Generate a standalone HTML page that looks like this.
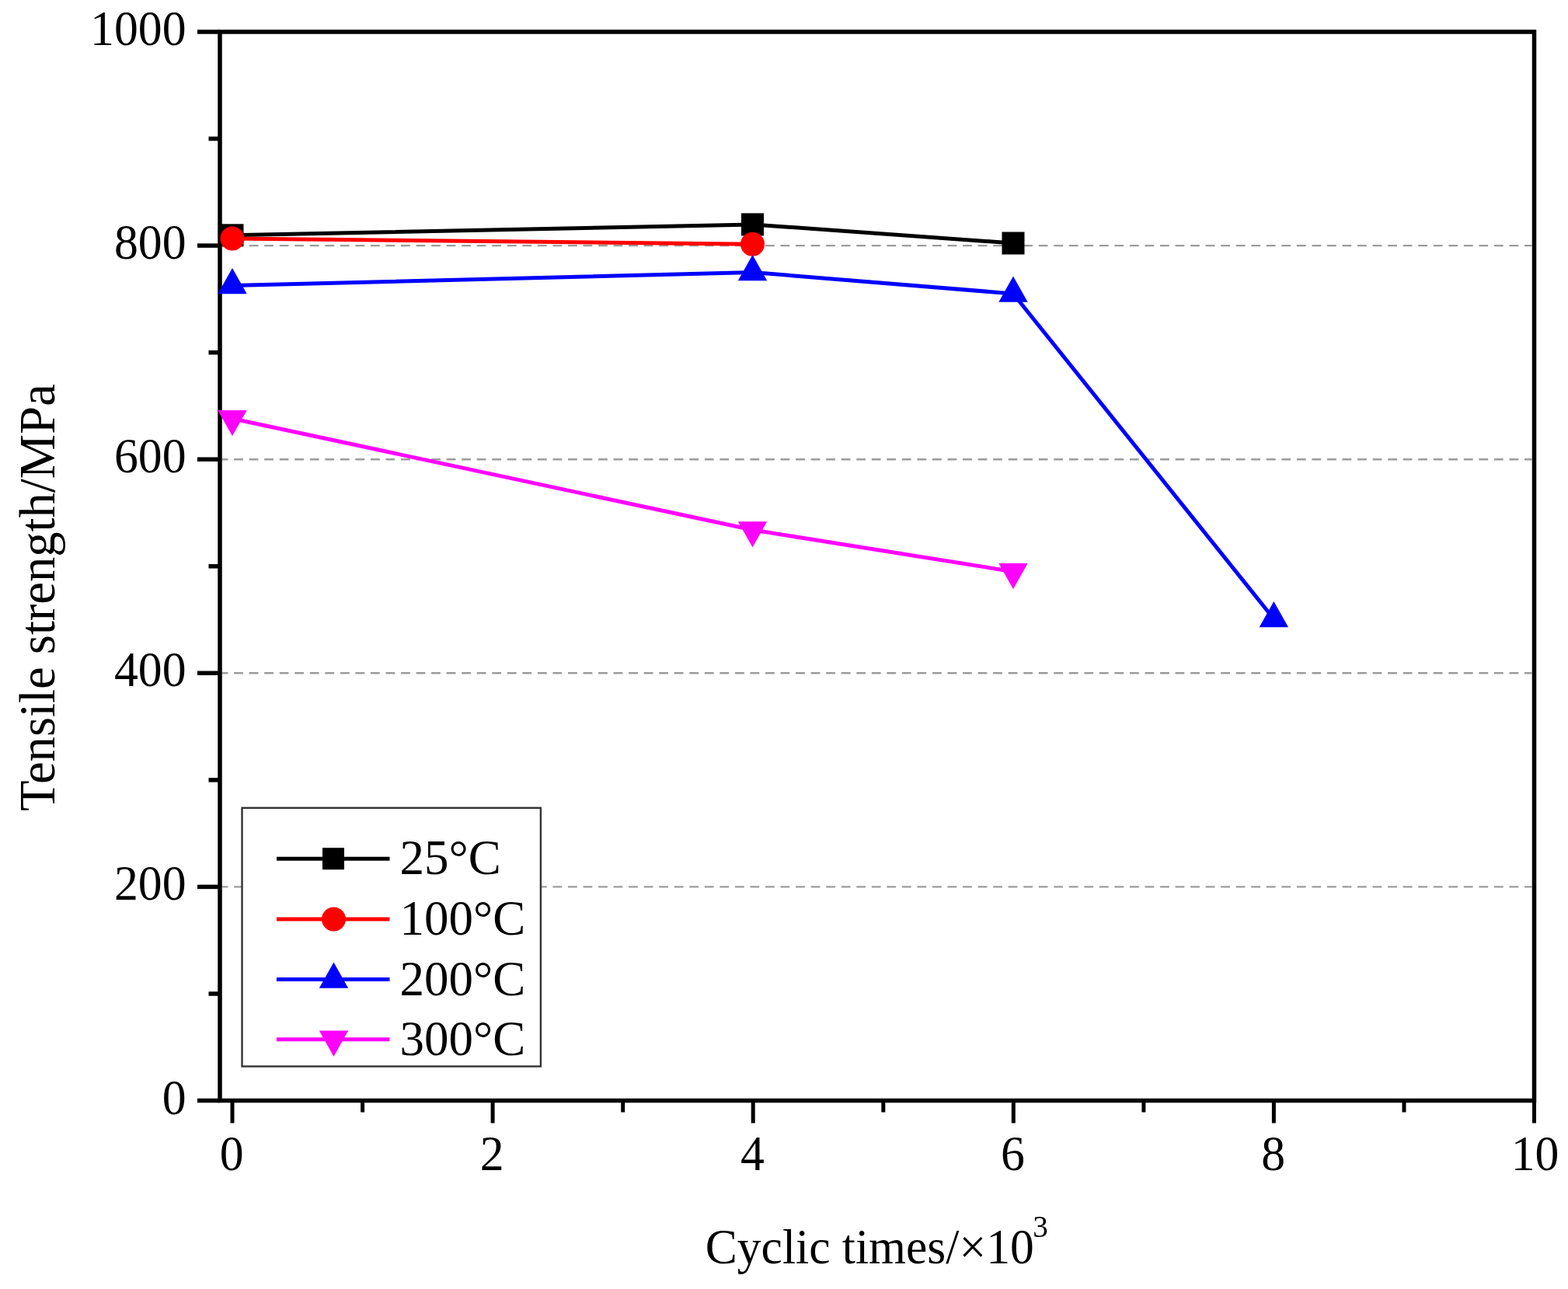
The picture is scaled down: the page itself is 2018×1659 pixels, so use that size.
<!DOCTYPE html><html><head><meta charset="utf-8"><title>Tensile strength vs cyclic times</title><style>html,body{margin:0;padding:0;background:#fff;overflow:hidden}svg{display:block}#w{width:2018px;height:1659px}text{font-family:"Liberation Serif","Times New Roman",serif;fill:#000}</style></head><body>
<div id="w"><svg width="2018" height="1659" viewBox="0 0 2018 1659">
<rect width="2018" height="1659" fill="#fff"/>
<line x1="286.0" y1="1141.4" x2="1971.5" y2="1141.4" stroke="#9c9c9c" stroke-width="2.4" stroke-dasharray="11.8 7.74" stroke-dashoffset="4.44"/>
<line x1="286.0" y1="866.3" x2="1971.5" y2="866.3" stroke="#9c9c9c" stroke-width="2.4" stroke-dasharray="11.8 7.74" stroke-dashoffset="4.44"/>
<line x1="286.0" y1="591.2" x2="1971.5" y2="591.2" stroke="#9c9c9c" stroke-width="2.4" stroke-dasharray="11.8 7.74" stroke-dashoffset="4.44"/>
<line x1="286.0" y1="316.1" x2="1971.5" y2="316.1" stroke="#9c9c9c" stroke-width="2.4" stroke-dasharray="11.8 7.74" stroke-dashoffset="4.44"/>
<rect x="283.0" y="41.0" width="1691.5" height="1375.5" fill="none" stroke="#000" stroke-width="5.5"/>
<line x1="254.0" y1="1416.5" x2="283.0" y2="1416.5" stroke="#000" stroke-width="5.5"/>
<line x1="268.5" y1="1279.0" x2="283.0" y2="1279.0" stroke="#000" stroke-width="5.5"/>
<line x1="254.0" y1="1141.4" x2="283.0" y2="1141.4" stroke="#000" stroke-width="5.5"/>
<line x1="268.5" y1="1003.9" x2="283.0" y2="1003.9" stroke="#000" stroke-width="5.5"/>
<line x1="254.0" y1="866.3" x2="283.0" y2="866.3" stroke="#000" stroke-width="5.5"/>
<line x1="268.5" y1="728.8" x2="283.0" y2="728.8" stroke="#000" stroke-width="5.5"/>
<line x1="254.0" y1="591.2" x2="283.0" y2="591.2" stroke="#000" stroke-width="5.5"/>
<line x1="268.5" y1="453.7" x2="283.0" y2="453.7" stroke="#000" stroke-width="5.5"/>
<line x1="254.0" y1="316.1" x2="283.0" y2="316.1" stroke="#000" stroke-width="5.5"/>
<line x1="268.5" y1="178.5" x2="283.0" y2="178.5" stroke="#000" stroke-width="5.5"/>
<line x1="254.0" y1="41.0" x2="283.0" y2="41.0" stroke="#000" stroke-width="5.5"/>
<line x1="299.0" y1="1416.5" x2="299.0" y2="1445.5" stroke="#000" stroke-width="5"/>
<line x1="466.6" y1="1416.5" x2="466.6" y2="1431.5" stroke="#000" stroke-width="5"/>
<line x1="634.1" y1="1416.5" x2="634.1" y2="1445.5" stroke="#000" stroke-width="5"/>
<line x1="801.7" y1="1416.5" x2="801.7" y2="1431.5" stroke="#000" stroke-width="5"/>
<line x1="969.2" y1="1416.5" x2="969.2" y2="1445.5" stroke="#000" stroke-width="5"/>
<line x1="1136.8" y1="1416.5" x2="1136.8" y2="1431.5" stroke="#000" stroke-width="5"/>
<line x1="1304.3" y1="1416.5" x2="1304.3" y2="1445.5" stroke="#000" stroke-width="5"/>
<line x1="1471.9" y1="1416.5" x2="1471.9" y2="1431.5" stroke="#000" stroke-width="5"/>
<line x1="1639.4" y1="1416.5" x2="1639.4" y2="1445.5" stroke="#000" stroke-width="5"/>
<line x1="1807.0" y1="1416.5" x2="1807.0" y2="1431.5" stroke="#000" stroke-width="5"/>
<line x1="1974.5" y1="1416.5" x2="1974.5" y2="1445.5" stroke="#000" stroke-width="5"/>
<polyline points="299.0,302.8 968.5,288.9 1304.0,313.0" fill="none" stroke="#000" stroke-width="5" stroke-linejoin="round"/>
<rect x="284.5" y="288.3" width="29" height="29" fill="#000"/>
<rect x="954.0" y="274.4" width="29" height="29" fill="#000"/>
<rect x="1289.5" y="298.5" width="29" height="29" fill="#000"/>
<polyline points="299.0,307.0 968.5,314.3" fill="none" stroke="#f00" stroke-width="5" stroke-linejoin="round"/>
<circle cx="299.0" cy="307.0" r="15.5" fill="#f00"/>
<circle cx="968.5" cy="314.3" r="15.5" fill="#f00"/>
<polyline points="299.0,367.5 968.5,350.5 1304.0,378.0 1639.4,796.5" fill="none" stroke="#00f" stroke-width="5" stroke-linejoin="round"/>
<polygon points="299.0,345.0 317.7,378.2 280.3,378.2" fill="#00f"/>
<polygon points="968.5,328.0 987.2,361.2 949.8,361.2" fill="#00f"/>
<polygon points="1304.0,355.5 1322.7,388.7 1285.3,388.7" fill="#00f"/>
<polygon points="1639.4,774.0 1658.1,807.2 1620.7,807.2" fill="#00f"/>
<polyline points="299.0,538.8 968.5,682.0 1304.0,735.7" fill="none" stroke="#f0f" stroke-width="5" stroke-linejoin="round"/>
<polygon points="299.0,561.3 317.7,528.1 280.3,528.1" fill="#f0f"/>
<polygon points="968.5,704.5 987.2,671.3 949.8,671.3" fill="#f0f"/>
<polygon points="1304.0,758.2 1322.7,725.0 1285.3,725.0" fill="#f0f"/>
<text transform="translate(239.5,1433.5) scale(0.965,1)" font-size="64" text-anchor="end">0</text>
<text transform="translate(239.5,1158.4) scale(0.965,1)" font-size="64" text-anchor="end">200</text>
<text transform="translate(239.5,883.3) scale(0.965,1)" font-size="64" text-anchor="end">400</text>
<text transform="translate(239.5,608.2) scale(0.965,1)" font-size="64" text-anchor="end">600</text>
<text transform="translate(239.5,333.1) scale(0.965,1)" font-size="64" text-anchor="end">800</text>
<text transform="translate(239.5,58.0) scale(0.965,1)" font-size="64" text-anchor="end">1000</text>
<text transform="translate(298.2,1506) scale(0.965,1)" font-size="64" text-anchor="middle">0</text>
<text transform="translate(633.3,1506) scale(0.965,1)" font-size="64" text-anchor="middle">2</text>
<text transform="translate(968.4,1506) scale(0.965,1)" font-size="64" text-anchor="middle">4</text>
<text transform="translate(1303.5,1506) scale(0.965,1)" font-size="64" text-anchor="middle">6</text>
<text transform="translate(1638.6,1506) scale(0.965,1)" font-size="64" text-anchor="middle">8</text>
<text transform="translate(1975.5,1506) scale(0.965,1)" font-size="64" text-anchor="middle">10</text>
<text transform="translate(69.7,1044) rotate(-90)" font-size="64.6">Tensile strength/MPa</text>
<text transform="translate(907.7,1626) scale(0.97,1)" font-size="63.5">Cyclic times/×10<tspan font-size="40.5" dx="-1.5" dy="-33.8">3</tspan></text>
<rect x="311.5" y="1039.8" width="384.4" height="332.7" fill="#fff" stroke="#333" stroke-width="2.4"/>
<line x1="356" y1="1105.2" x2="501.5" y2="1105.2" stroke="#000" stroke-width="5"/>
<rect x="415.0" y="1091.2" width="28" height="28" fill="#000"/>
<text x="514.5" y="1125.4" font-size="63">25°C</text>
<line x1="356" y1="1183" x2="501.5" y2="1183" stroke="#f00" stroke-width="5"/>
<circle cx="429.5" cy="1183.0" r="15.5" fill="#f00"/>
<text x="514.5" y="1203.2" font-size="63">100°C</text>
<line x1="356" y1="1260.6" x2="501.5" y2="1260.6" stroke="#00f" stroke-width="5"/>
<polygon points="429.5,1238.6 448.2,1271.8 410.8,1271.8" fill="#00f"/>
<text x="514.5" y="1280.8" font-size="63">200°C</text>
<line x1="356" y1="1337.8" x2="501.5" y2="1337.8" stroke="#f0f" stroke-width="5"/>
<polygon points="429.5,1359.8 448.2,1326.6 410.8,1326.6" fill="#f0f"/>
<text x="514.5" y="1358.0" font-size="63">300°C</text>
</svg></div></body></html>
